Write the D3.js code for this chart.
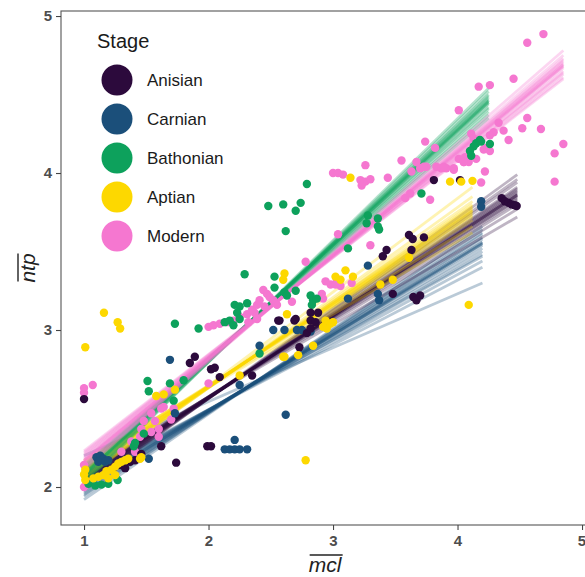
<!DOCTYPE html>
<html>
<head>
<meta charset="utf-8">
<script src="https://cdn.jsdelivr.net/npm/d3@7"></script>
<style>
  html, body { margin: 0; padding: 0; background: #fff; }
  svg { display: block; font-family: "Liberation Sans", Arial, sans-serif; }
</style>
</head>
<body>
<svg id="chart" width="585" height="577"></svg>
<script>
// ---------------- DATA ----------------
const stages = ["Anisian", "Carnian", "Bathonian", "Aptian", "Modern"];
const stageColors = ["#2c0a3c", "#1b4f7a", "#0da15c", "#fdd800", "#f577d0"];
const xTicks = [1, 2, 3, 4, 5];
const yTicks = [2, 3, 4, 5];
const xTitle = "mcl";
const yTitle = "ntp";
const legendTitle = "Stage";

// scatter points (mcl, ntp) per stage
const anisianX = [1.00, 1.25, 1.29, 1.33, 1.37, 1.41, 1.46, 1.62, 1.74, 1.85, 1.89, 1.99, 2.02, 2.02, 2.05, 2.09, 2.35, 2.57, 2.70, 2.82, 2.88, 2.82, 2.86, 2.79, 2.82, 2.73, 2.56, 2.69, 3.61, 3.64, 3.73, 3.43, 3.40, 3.63, 3.48, 3.645, 3.70, 3.67, 3.81, 4.02, 4.355, 4.38, 4.41, 4.435, 4.46, 4.475];
const anisianY = [2.56, 2.13, 2.14, 2.12, 2.16, 2.17, 2.21, 2.26, 2.155, 2.79, 2.83, 2.26, 2.26, 2.75, 2.76, 2.70, 2.71, 3.06, 3.07, 3.11, 3.11, 3.06, 3.05, 2.98, 3.01, 2.89, 3.06, 3.06, 3.605, 3.58, 3.59, 3.51, 3.47, 3.51, 3.23, 3.21, 3.22, 3.19, 3.955, 3.955, 3.84, 3.82, 3.81, 3.80, 3.795, 3.79];

const carnianX = [1.10, 1.13, 1.155, 1.115, 1.17, 1.195, 1.52, 1.69, 1.73, 2.13, 2.17, 2.21, 2.21, 2.25, 2.31, 2.25, 2.41, 2.52, 2.61, 2.71, 2.75, 2.82, 2.62, 3.28, 3.12, 3.36, 3.37, 4.19, 4.19];
const carnianY = [2.19, 2.20, 2.18, 2.16, 2.16, 2.17, 2.18, 2.81, 2.47, 2.24, 2.24, 2.30, 2.24, 2.24, 2.24, 2.65, 2.90, 3.00, 3.00, 3.00, 3.00, 2.99, 2.46, 3.41, 3.20, 3.23, 3.19, 3.82, 3.785];

const bathonianX = [2.79, 2.48, 2.60, 2.74, 2.70, 2.62, 2.29, 2.53, 2.53, 2.61, 2.70, 2.63, 2.21, 2.25, 2.31, 2.23, 2.13, 2.17, 2.20, 2.25, 1.92, 1.73, 2.82, 2.84, 2.87, 2.83, 2.41, 1.51, 1.52, 1.69, 1.80, 1.72, 1.40, 1.48, 1.41, 1.035, 1.09, 1.14, 1.195, 1.27, 3.71, 3.28, 3.36, 3.27, 3.37, 3.36, 3.12, 4.18, 4.15, 4.13, 4.10, 4.11, 4.26, 4.19];
const bathonianY = [3.93, 3.79, 3.80, 3.81, 3.76, 3.63, 3.355, 3.34, 3.27, 3.24, 3.25, 3.22, 3.16, 3.15, 3.17, 3.11, 3.05, 3.06, 3.03, 3.07, 3.01, 3.04, 3.22, 3.19, 3.20, 3.16, 2.85, 2.675, 2.61, 2.66, 2.68, 2.55, 2.26, 2.34, 2.28, 2.02, 2.01, 2.015, 2.02, 2.045, 3.87, 3.73, 3.71, 3.68, 3.64, 3.66, 3.52, 4.21, 4.19, 4.17, 4.14, 4.11, 4.185, 4.20];

const aptianX = [1.01, 1.16, 1.27, 1.29, 1.58, 1.64, 1.73, 1.01, 1.01, 1.075, 1.115, 1.155, 1.18, 1.22, 1.25, 1.275, 1.30, 1.33, 1.355, 1.45, 1.195, 1.25, 1.46, 1.00, 2.25, 2.60, 2.63, 2.61, 2.60, 2.94, 2.98, 2.95, 2.92, 3.00, 2.72, 2.84, 2.61, 2.78, 3.14, 3.94, 4.03, 4.12, 3.61, 3.10, 3.16, 3.02, 3.06, 3.38, 3.48, 4.09];
const aptianY = [2.89, 3.11, 3.05, 3.01, 2.58, 2.59, 2.62, 2.11, 2.045, 2.055, 2.065, 2.076, 2.10, 2.11, 2.13, 2.15, 2.16, 2.17, 2.18, 2.18, 2.055, 2.076, 2.19, 2.08, 2.71, 2.83, 3.10, 3.36, 3.32, 3.06, 3.04, 3.01, 3.02, 3.05, 2.84, 2.90, 2.83, 2.17, 3.97, 3.945, 3.945, 3.95, 3.46, 3.38, 3.34, 3.34, 3.32, 3.29, 3.32, 3.16];

const modernX = [1.00, 1.00, 1.07, 1.00, 1.05, 1.00, 1.54, 1.62, 1.57, 1.54, 1.60, 1.60, 1.46, 1.45, 1.38, 1.41, 1.30, 1.48, 1.72, 1.70, 1.64, 2.00, 2.00, 2.04, 2.09, 2.15, 2.20, 2.25, 2.31, 2.37, 2.35, 2.39, 2.45, 2.41, 2.52, 2.49, 2.47, 2.44, 2.55, 2.32, 2.39, 2.67, 2.78, 2.91, 2.98, 3.03, 2.92, 2.94, 3.02, 3.06, 3.15, 3.04, 3.30, 3.00, 3.04, 3.08, 3.22, 3.26, 3.30, 3.23, 3.44, 3.26, 3.55, 3.67, 3.63, 3.70, 3.75, 3.83, 3.91, 3.97, 4.05, 4.01, 3.73, 3.87, 3.74, 3.82, 3.58, 3.62, 3.78, 4.69, 4.56, 4.45, 4.17, 4.26, 4.01, 4.56, 4.52, 4.67, 4.33, 4.37, 4.29, 4.26, 4.41, 4.11, 4.13, 4.85, 4.78, 4.78, 4.26, 4.23, 4.21, 4.06, 4.15, 4.09, 4.05, 3.97, 3.89, 4.22, 4.19];
const modernY = [2.63, 2.60, 2.65, 2.00, 2.03, 2.14, 2.47, 2.50, 2.42, 2.35, 2.37, 2.32, 2.37, 2.32, 2.29, 2.225, 2.225, 2.42, 2.50, 2.43, 2.51, 2.66, 3.02, 3.03, 3.04, 3.05, 3.06, 3.085, 3.10, 3.11, 3.13, 3.16, 3.15, 3.19, 3.19, 3.21, 3.23, 3.255, 3.16, 3.05, 3.07, 3.18, 3.435, 3.23, 3.29, 3.32, 3.20, 3.31, 3.29, 3.28, 3.30, 3.61, 3.54, 4.00, 4.00, 3.99, 3.955, 3.945, 3.96, 3.92, 3.97, 4.05, 4.08, 4.07, 4.01, 4.03, 4.04, 4.04, 4.03, 4.02, 4.07, 4.09, 4.04, 4.03, 4.20, 4.16, 3.84, 3.87, 3.83, 4.885, 4.83, 4.60, 4.55, 4.56, 4.40, 4.35, 4.285, 4.28, 4.32, 4.27, 4.26, 4.24, 4.21, 4.25, 4.22, 4.185, 4.125, 3.945, 4.14, 4.16, 4.15, 4.10, 4.09, 4.07, 4.07, 4.03, 4.04, 4.01, 3.94];

// fitted-line draws per stage: x range and ntp at both ends of each draw
const lineXMin = [1.0, 1.0, 1.0, 1.0, 1.0];
const lineXMax = [4.48, 4.20, 4.25, 4.12, 4.85];
const anisianLineStart = [2.05, 2.03, 2.07, 2.04, 2.06, 2.02, 2.08, 2.05, 2.01, 2.09, 2.04, 2.06, 1.99, 2.11, 2.05, 2.03, 2.07, 2.00];
const anisianLineEnd   = [3.86, 3.89, 3.83, 3.87, 3.85, 3.91, 3.80, 3.86, 3.94, 3.77, 3.88, 3.84, 3.99, 3.72, 3.86, 3.90, 3.82, 3.96];
const carnianLineStart = [2.00, 1.98, 2.02, 1.99, 2.01, 1.96, 2.04, 2.00, 1.94, 2.06, 1.97, 2.03, 1.92, 2.08, 2.00, 2.05, 1.95, 2.20];
const carnianLineEnd   = [3.55, 3.58, 3.52, 3.56, 3.54, 3.61, 3.48, 3.55, 3.64, 3.44, 3.59, 3.50, 3.66, 3.40, 3.56, 3.47, 3.62, 3.30];
const bathonianLineStart = [2.08, 2.06, 2.10, 2.07, 2.09, 2.04, 2.12, 2.08, 2.03, 2.13, 2.05, 2.11, 2.08, 2.02, 2.14, 2.07];
const bathonianLineEnd   = [4.45, 4.48, 4.42, 4.46, 4.44, 4.50, 4.39, 4.45, 4.52, 4.37, 4.49, 4.41, 4.46, 4.54, 4.35, 4.47];
const aptianLineStart = [2.11, 2.09, 2.13, 2.10, 2.12, 2.07, 2.15, 2.11, 2.06, 2.16, 2.08, 2.14, 2.05, 2.17, 2.10, 2.12];
const aptianLineEnd   = [3.76, 3.79, 3.73, 3.77, 3.75, 3.82, 3.70, 3.76, 3.85, 3.66, 3.80, 3.72, 3.91, 3.62, 3.78, 3.74];
const modernLineStart = [2.17, 2.15, 2.19, 2.16, 2.18, 2.13, 2.21, 2.17, 2.12, 2.22, 2.14, 2.20, 2.17, 2.11, 2.23, 2.16];
const modernLineEnd   = [4.68, 4.71, 4.65, 4.69, 4.67, 4.73, 4.63, 4.68, 4.75, 4.61, 4.72, 4.64, 4.69, 4.78, 4.60, 4.70];

// ---------------- BUILD ----------------
const pointSets = [[anisianX, anisianY], [carnianX, carnianY], [bathonianX, bathonianY], [aptianX, aptianY], [modernX, modernY]];
const lineSets = [[anisianLineStart, anisianLineEnd], [carnianLineStart, carnianLineEnd], [bathonianLineStart, bathonianLineEnd], [aptianLineStart, aptianLineEnd], [modernLineStart, modernLineEnd]];

const points = [];
pointSets.forEach((ps, i) => ps[0].forEach((x, j) => points.push({ stage: stages[i], x: x, y: ps[1][j] })));
const draws = [];
lineSets.forEach((ls, i) => ls[0].forEach((y0, j) => draws.push({ stage: stages[i], x0: lineXMin[i], x1: lineXMax[i], y0: y0, y1: ls[1][j] })));

const svg = d3.select("#chart");
const panel = { left: 61, top: 11, right: 587, bottom: 525 };
const x = d3.scaleLinear().domain([0.815, 5.04]).range([panel.left, panel.right]);
const y = d3.scaleLinear().domain([1.758, 5.032]).range([panel.bottom, panel.top]);
const color = d3.scaleOrdinal().domain(stages).range(stageColors);

// lines (draw order)
const lineOrder = ["Carnian", "Anisian", "Aptian", "Bathonian", "Modern"];
const gLines = svg.append("g");
lineOrder.forEach(s => {
  gLines.selectAll(null).data(draws.filter(d => d.stage === s)).enter().append("line")
    .attr("x1", d => x(d.x0)).attr("y1", d => y(d.y0))
    .attr("x2", d => x(d.x1)).attr("y2", d => y(d.y1))
    .attr("stroke", d => color(d.stage))
    .attr("stroke-width", 2.8)
    .attr("stroke-opacity", 0.3);
});

// points
const pointOrder = ["Modern", "Bathonian", "Carnian", "Anisian", "Aptian"];
const gPts = svg.append("g");
pointOrder.forEach(s => {
  gPts.selectAll(null).data(points.filter(d => d.stage === s)).enter().append("circle")
    .attr("cx", d => x(d.x)).attr("cy", d => y(d.y))
    .attr("r", 4.2)
    .attr("fill", d => color(d.stage));
});

// panel border
svg.append("rect")
  .attr("x", panel.left).attr("y", panel.top)
  .attr("width", panel.right - panel.left).attr("height", panel.bottom - panel.top)
  .attr("fill", "none").attr("stroke", "#555").attr("stroke-width", 1.1);

// axes
const xAxis = d3.axisBottom(x).tickValues(xTicks).tickSize(5).tickPadding(5).tickFormat(d3.format("d"));
const yAxis = d3.axisLeft(y).tickValues(yTicks).tickSize(5).tickPadding(4).tickFormat(d3.format("d"));
const gx = svg.append("g").attr("transform", `translate(0,${panel.bottom})`).call(xAxis);
const gy = svg.append("g").attr("transform", `translate(${panel.left},0)`).call(yAxis);
[gx, gy].forEach(g => {
  g.select(".domain").remove();
  g.selectAll(".tick line").attr("stroke", "#444").attr("stroke-width", 1.1);
  g.selectAll(".tick text").attr("fill", "#4d4d4d").attr("font-size", 15).attr("font-weight", "bold")
    .attr("font-family", "'Liberation Sans', Arial, sans-serif");
});
// keep the last x label inside the window
gx.selectAll(".tick text").filter(d => x(d) + 5 > 585).attr("text-anchor", "end").attr("dx", 585 - x(5) + 0.5 + "px");

// axis titles with overline
function overlined(g, txt) {
  const t = g.append("text").attr("text-anchor", "middle")
    .attr("font-size", 21).attr("font-style", "italic").attr("fill", "#222").text(txt);
  const bb = t.node().getBBox();
  g.append("line").attr("x1", bb.x + 1).attr("x2", bb.x + bb.width)
    .attr("y1", bb.y + 2).attr("y2", bb.y + 2)
    .attr("stroke", "#222").attr("stroke-width", 1.4);
}
overlined(svg.append("g").attr("transform", "translate(325,572)"), xTitle);
overlined(svg.append("g").attr("transform", "translate(35,268) rotate(-90)"), yTitle);

// legend
const lg = svg.append("g");
lg.append("text").attr("x", 97).attr("y", 48).attr("font-size", 20).attr("fill", "#1a1a1a").text(legendTitle);
stages.forEach((s, i) => {
  const cy = 80 + i * 39;
  lg.append("circle").attr("cx", 117).attr("cy", cy).attr("r", 15.5).attr("fill", color(s));
  lg.append("text").attr("x", 147).attr("y", cy + 6).attr("font-size", 17).attr("fill", "#1a1a1a").text(s);
});
</script>
</body>
</html>
